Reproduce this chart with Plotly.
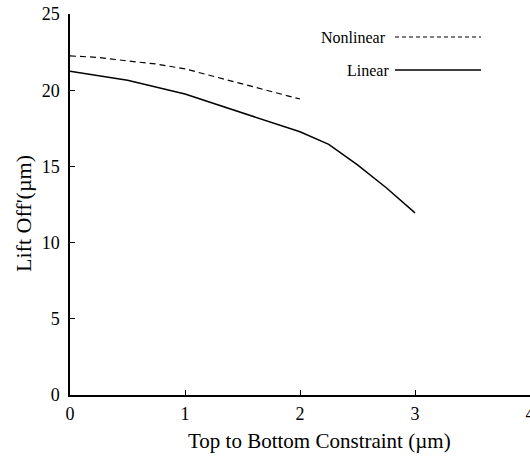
import plotly.graph_objects as go

# Lift-off versus top-to-bottom constraint
linear_x = [0, 0.5, 1.0, 1.5, 2.0, 2.25, 2.5, 2.75, 3.0]
linear_y = [21.25, 20.65, 19.75, 18.5, 17.27, 16.45, 15.1, 13.6, 11.95]

nonlinear_x = [0, 0.25, 0.5, 0.75, 1.0, 1.25, 1.5, 1.75, 2.0]
nonlinear_y = [22.25, 22.15, 21.92, 21.72, 21.4, 20.9, 20.4, 19.9, 19.42]

x_ticks = [0, 1, 2, 3, 4]
y_ticks = [0, 5, 10, 15, 20, 25]

FONT = "Liberation Serif, Times New Roman, serif"

W, H = 530, 456
L, R, T, B = 70, 0, 14, 61
PW, PH = W - L - R, H - T - B


def px_to_paper(xp, yp):
    return (xp - L) / PW, 1 - (yp - T) / PH


fig = go.Figure()
fig.add_trace(go.Scatter(x=nonlinear_x, y=nonlinear_y, mode="lines", name="Nonlinear",
                         line=dict(color="black", width=1.2, dash="6px,4px")))
fig.add_trace(go.Scatter(x=linear_x, y=linear_y, mode="lines", name="Linear",
                         line=dict(color="black", width=1.5)))

# Hand-drawn legend: label text followed by a line sample
legend_items = [("Nonlinear", "4px,3px", 1.2, 37, 388), ("Linear", None, 1.3, 70, 391)]
for label, dash, w, ypix, xtext in legend_items:
    xa, ya = px_to_paper(xtext, ypix)
    x0, _ = px_to_paper(395, ypix)
    x1, _ = px_to_paper(481, ypix)
    fig.add_annotation(x=xa, y=ya, xref="paper", yref="paper",
                       text=label, showarrow=False, xanchor="right", yanchor="middle",
                       font=dict(family=FONT, size=16, color="black"))
    fig.add_shape(type="line", xref="paper", yref="paper",
                  x0=x0, x1=x1, y0=ya, y1=ya,
                  line=dict(color="black", width=w, dash=dash))

# Axis titles placed as annotations
tx, ty = px_to_paper(23, 214)
fig.add_annotation(x=tx, y=ty, xref="paper", yref="paper", text="Lift Off'(µm)",
                   textangle=-90, showarrow=False, xanchor="center", yanchor="middle",
                   font=dict(family=FONT, size=22, color="black"))
bx, by = px_to_paper(319, 441)
fig.add_annotation(x=bx, y=by, xref="paper", yref="paper",
                   text="Top to Bottom Constraint (µm)",
                   showarrow=False, xanchor="center", yanchor="middle",
                   font=dict(family=FONT, size=21, color="black"))

fig.update_layout(
    width=W, height=H,
    margin=dict(l=L, r=R, t=T, b=B, autoexpand=False),
    paper_bgcolor="white", plot_bgcolor="white",
    showlegend=False,
    font=dict(family=FONT, size=18, color="black"),
)
fig.update_xaxes(range=[0, 4], tickvals=x_ticks, ticks="inside", ticklen=5,
                 tickwidth=1.3, tickcolor="black", showline=True, linecolor="black",
                 linewidth=1.5, showgrid=False, zeroline=False, automargin=False,
                 ticklabeloverflow="allow", ticklabelstandoff=2, tickfont=dict(size=18))
fig.update_yaxes(range=[0, 25], tickvals=y_ticks, ticks="inside", ticklen=5,
                 tickwidth=1.3, tickcolor="black", showline=True, linecolor="black",
                 linewidth=1.5, showgrid=False, zeroline=False, automargin=False,
                 ticklabelstandoff=5, tickfont=dict(size=18))

fig.write_html("out.html")
